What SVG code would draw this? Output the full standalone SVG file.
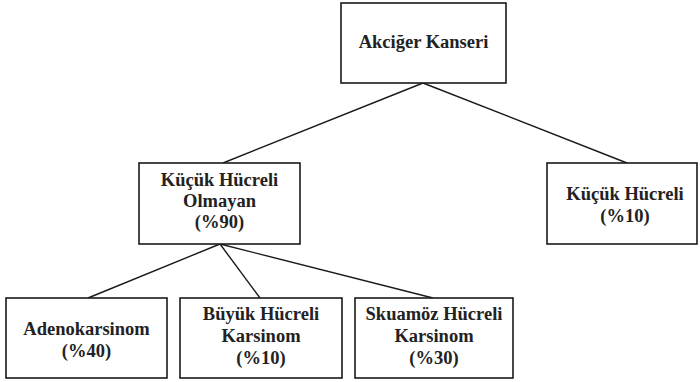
<svg xmlns="http://www.w3.org/2000/svg" width="700" height="382" viewBox="0 0 700 382">
  <style>
    .box { fill: #ffffff; stroke: #1a1a1a; stroke-width: 1.6; }
    .lbl { font-family: "Liberation Serif", "Times New Roman", "DejaVu Serif", serif; font-weight: bold; font-size: 18.5px; fill: #222222; text-anchor: middle; }
    .link { stroke: #1a1a1a; stroke-width: 1.4; fill: none; }
  </style>
  <rect width="700" height="382" fill="#ffffff"/>
  <g id="connectors">
    <line class="link" x1="423" y1="83" x2="223" y2="163"/>
    <line class="link" x1="423" y1="83" x2="627" y2="163"/>
    <line class="link" x1="220" y1="244" x2="88" y2="298"/>
    <line class="link" x1="220" y1="244" x2="260" y2="298"/>
    <line class="link" x1="220" y1="244" x2="433" y2="298"/>
  </g>
  <g id="akciger-kanseri">
    <rect class="box" x="341" y="3" width="165" height="80"/>
    <text class="lbl" x="423.5" y="48">Akciğer Kanseri</text>
  </g>
  <g id="kucuk-hucreli-olmayan">
    <rect class="box" x="139" y="163" width="161" height="81"/>
    <text class="lbl" x="219.5" y="186">Küçük Hücreli</text>
    <text class="lbl" x="219.5" y="207">Olmayan</text>
    <text class="lbl" x="219.5" y="228">(%90)</text>
  </g>
  <g id="kucuk-hucreli">
    <rect class="box" x="547" y="163" width="150" height="81"/>
    <text class="lbl" x="625" y="200">Küçük Hücreli</text>
    <text class="lbl" x="625" y="222">(%10)</text>
  </g>
  <g id="adenokarsinom">
    <rect class="box" x="6" y="298" width="161" height="80"/>
    <text class="lbl" x="86.5" y="335">Adenokarsinom</text>
    <text class="lbl" x="86.5" y="357">(%40)</text>
  </g>
  <g id="buyuk-hucreli-karsinom">
    <rect class="box" x="180" y="298" width="162" height="80"/>
    <text class="lbl" x="261" y="320">Büyük Hücreli</text>
    <text class="lbl" x="261" y="342">Karsinom</text>
    <text class="lbl" x="261" y="364">(%10)</text>
  </g>
  <g id="skuamoz-hucreli-karsinom">
    <rect class="box" x="355" y="298" width="158" height="80"/>
    <text class="lbl" x="434" y="320">Skuamöz Hücreli</text>
    <text class="lbl" x="434" y="342">Karsinom</text>
    <text class="lbl" x="434" y="364">(%30)</text>
  </g>
</svg>
